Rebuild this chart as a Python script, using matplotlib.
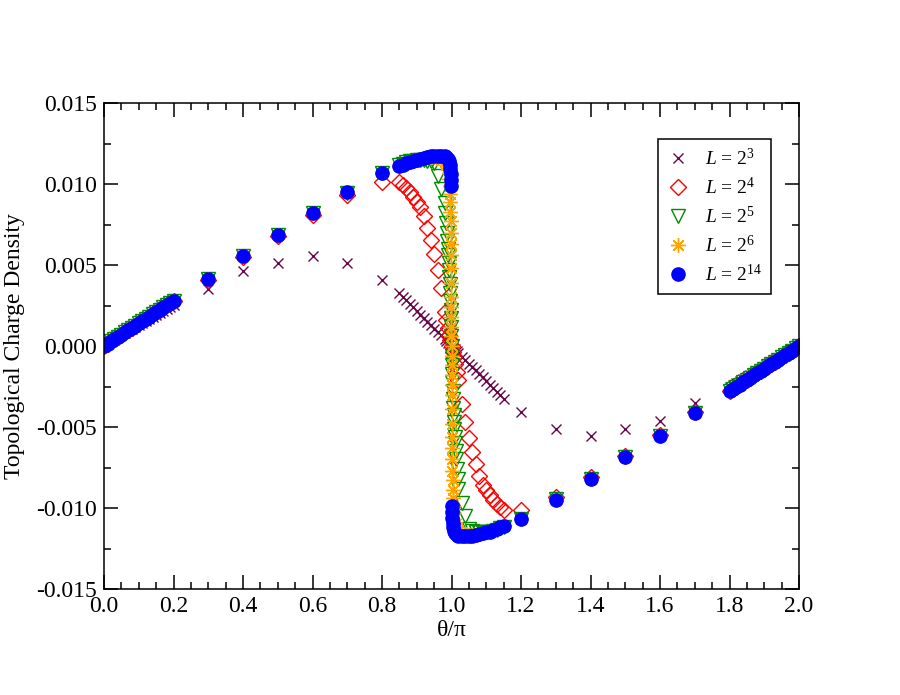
import matplotlib
matplotlib.use("Agg")
import matplotlib.pyplot as plt
from matplotlib.ticker import MultipleLocator, FormatStrFormatter

# --- data (charge density in units of 1e-3) ---
# theta/pi grid pieces shared by every lattice size
X_LOW = [0.00, 0.01, 0.02, 0.03, 0.04, 0.05, 0.06, 0.07, 0.08, 0.09, 0.10,
         0.11, 0.12, 0.13, 0.14, 0.15, 0.16, 0.17, 0.18, 0.19, 0.20]
X_MID_L = [0.3, 0.4, 0.5, 0.6, 0.7, 0.8]
X_NEAR_L = [0.85, 0.86, 0.87, 0.88, 0.89, 0.90, 0.91, 0.92, 0.93, 0.94, 0.95,
            0.96, 0.97, 0.98]
X_NEAR_R = [1.02, 1.03, 1.04, 1.05, 1.06, 1.07, 1.08, 1.09, 1.10, 1.11, 1.12,
            1.13, 1.14, 1.15]
X_MID_R = [1.2, 1.3, 1.4, 1.5, 1.6, 1.7]
X_HIGH = [1.80, 1.81, 1.82, 1.83, 1.84, 1.85, 1.86, 1.87, 1.88, 1.89, 1.90,
          1.91, 1.92, 1.93, 1.94, 1.95, 1.96, 1.97, 1.98, 1.99, 2.00]

# points close to theta = pi, per lattice size
X_C_L3 = [0.985, 0.99, 0.995, 1.0, 1.005, 1.01, 1.015]
X_C_L4 = [0.985, 0.99, 0.994, 0.997, 1.0, 1.003, 1.006, 1.01, 1.015]
X_C_L5 = [0.982, 0.984, 0.986, 0.988, 0.99, 0.991, 0.992, 0.993, 0.994, 0.995,
          0.996, 0.997, 0.998, 0.9985, 0.999, 0.9995, 1.0, 1.0005, 1.001,
          1.0015, 1.002, 1.003, 1.004, 1.005, 1.006, 1.007, 1.008, 1.009,
          1.01, 1.012, 1.014, 1.016, 1.018]
X_C_L6 = [0.985, 0.99, 0.992, 0.994, 0.995, 0.996, 0.9965, 0.997, 0.9975,
          0.998, 0.9983, 0.9986, 0.9989, 0.9992, 0.9994, 0.9995, 0.9996,
          0.9997, 0.9998, 1.0, 1.0002, 1.0003, 1.0004, 1.0005, 1.0006,
          1.0008, 1.0011, 1.0014, 1.0017, 1.002, 1.0025, 1.003, 1.0035,
          1.004, 1.005, 1.006, 1.008, 1.01, 1.015]
X_C_L14 = [0.985, 0.99, 0.993, 0.995, 0.997, 0.998, 0.999, 0.9995, 1.0005,
           1.001, 1.002, 1.003, 1.005, 1.007, 1.01, 1.015]

Q_L3 = ([0.00, 0.135, 0.27, 0.40, 0.535, 0.67, 0.80, 0.93, 1.06, 1.19, 1.32,
         1.45, 1.57, 1.69, 1.81, 1.93, 2.05, 2.17, 2.29, 2.40, 2.51]
        + [3.50, 4.60, 5.15, 5.55, 5.10, 4.10]
        + [3.30, 3.05, 2.82, 2.60, 2.38, 2.16, 1.94, 1.72, 1.50, 1.29, 1.08,
           0.86, 0.65, 0.43]
        + [0.32, 0.21, 0.11, 0.00, -0.11, -0.21, -0.32]
        + [-0.43, -0.65, -0.86, -1.08, -1.29, -1.50, -1.72, -1.94, -2.16,
           -2.38, -2.60, -2.82, -3.05, -3.30]
        + [-4.10, -5.10, -5.55, -5.15, -4.60, -3.50]
        + [-2.51, -2.40, -2.29, -2.17, -2.05, -1.93, -1.81, -1.69, -1.57,
           -1.45, -1.32, -1.19, -1.06, -0.93, -0.80, -0.67, -0.535, -0.40,
           -0.27, -0.135, 0.00])

Q_L4 = ([0.00, 0.14, 0.28, 0.42, 0.56, 0.70, 0.84, 0.98, 1.12, 1.26, 1.40,
         1.54, 1.68, 1.82, 1.96, 2.09, 2.23, 2.37, 2.51, 2.65, 2.78]
        + [4.10, 5.50, 6.80, 8.10, 9.35, 10.10]
        + [10.15, 9.95, 9.75, 9.50, 9.20, 8.90, 8.55, 8.05, 7.30, 6.55, 5.70,
           4.70, 3.60, 2.10]
        + [1.60, 1.10, 0.70, 0.35, 0.00, -0.35, -0.70, -1.10, -1.60]
        + [-2.10, -3.60, -4.70, -5.70, -6.55, -7.30, -8.05, -8.55, -8.90,
           -9.20, -9.50, -9.75, -9.95, -10.15]
        + [-10.10, -9.35, -8.10, -6.80, -5.50, -4.10]
        + [-2.78, -2.65, -2.51, -2.37, -2.23, -2.09, -1.96, -1.82, -1.68,
           -1.54, -1.40, -1.26, -1.12, -0.98, -0.84, -0.70, -0.56, -0.42,
           -0.28, -0.14, 0.00])

Q_L5 = ([0.00, 0.14, 0.28, 0.42, 0.56, 0.70, 0.84, 0.98, 1.12, 1.26, 1.40,
         1.54, 1.68, 1.82, 1.96, 2.10, 2.24, 2.38, 2.52, 2.66, 2.80]
        + [4.15, 5.55, 6.85, 8.20, 9.45, 10.65]
        + [11.15, 11.25, 11.35, 11.40, 11.45, 11.50, 11.50, 11.50, 11.45,
           11.40, 11.30, 10.50, 9.70, 8.80]
        + [8.20, 7.60, 7.00, 6.50, 6.00, 5.60, 5.15, 4.70, 4.25, 3.80, 3.30,
           2.80, 2.20, 1.70, 1.15, 0.60, 0.00, -0.60, -1.15, -1.70, -2.20,
           -2.80, -3.30, -3.80, -4.25, -4.70, -5.15, -5.60, -6.00, -6.50,
           -7.00, -7.60, -8.20]
        + [-8.80, -9.70, -10.50, -11.30, -11.40, -11.45, -11.50, -11.50,
           -11.50, -11.45, -11.40, -11.35, -11.25, -11.15]
        + [-10.65, -9.45, -8.20, -6.85, -5.55, -4.15]
        + [-2.80, -2.66, -2.52, -2.38, -2.24, -2.10, -1.96, -1.82, -1.68,
           -1.54, -1.40, -1.26, -1.12, -0.98, -0.84, -0.70, -0.56, -0.42,
           -0.28, -0.14, 0.00])

Q_L6 = ([0.00, 0.14, 0.28, 0.42, 0.56, 0.70, 0.84, 0.98, 1.12, 1.26, 1.40,
         1.54, 1.68, 1.82, 1.96, 2.10, 2.24, 2.38, 2.52, 2.66, 2.80]
        + [4.15, 5.55, 6.85, 8.20, 9.50, 10.70]
        + [11.10, 11.20, 11.30, 11.35, 11.45, 11.50, 11.55, 11.60, 11.65,
           11.65, 11.65, 11.60, 11.50, 11.35]
        + [11.20, 11.00, 10.70, 10.30, 9.90, 9.40, 8.90, 8.30, 7.70, 7.00,
           6.30, 5.60, 4.80, 3.90, 3.00, 2.40, 1.80, 1.20, 0.60, 0.00,
           -0.60, -1.20, -1.80, -2.40, -3.00, -3.90, -4.80, -5.60, -6.30,
           -7.00, -7.70, -8.30, -8.90, -9.40, -9.90, -10.30, -10.70, -11.00,
           -11.20]
        + [-11.35, -11.50, -11.60, -11.65, -11.65, -11.65, -11.60, -11.55,
           -11.50, -11.45, -11.35, -11.30, -11.20, -11.10]
        + [-10.70, -9.50, -8.20, -6.85, -5.55, -4.15]
        + [-2.80, -2.66, -2.52, -2.38, -2.24, -2.10, -1.96, -1.82, -1.68,
           -1.54, -1.40, -1.26, -1.12, -0.98, -0.84, -0.70, -0.56, -0.42,
           -0.28, -0.14, 0.00])

Q_L14 = ([0.00, 0.14, 0.28, 0.42, 0.56, 0.70, 0.84, 0.98, 1.12, 1.26, 1.40,
          1.54, 1.68, 1.82, 1.96, 2.10, 2.24, 2.38, 2.52, 2.66, 2.80]
         + [4.15, 5.55, 6.85, 8.20, 9.50, 10.70]
         + [11.10, 11.20, 11.30, 11.35, 11.45, 11.50, 11.55, 11.60, 11.65,
            11.70, 11.75, 11.75, 11.75, 11.70]
         + [11.65, 11.55, 11.40, 11.20, 10.90, 10.60, 10.25, 9.85, -9.85,
            -10.25, -10.60, -10.90, -11.20, -11.40, -11.55, -11.65]
         + [-11.70, -11.75, -11.75, -11.75, -11.70, -11.65, -11.60, -11.55,
            -11.50, -11.45, -11.35, -11.30, -11.20, -11.10]
         + [-10.70, -9.50, -8.20, -6.85, -5.55, -4.15]
         + [-2.80, -2.66, -2.52, -2.38, -2.24, -2.10, -1.96, -1.82, -1.68,
            -1.54, -1.40, -1.26, -1.12, -0.98, -0.84, -0.70, -0.56, -0.42,
            -0.28, -0.14, 0.00])

LABELS = [r'$L$ = 2$^{3}$', r'$L$ = 2$^{4}$', r'$L$ = 2$^{5}$',
          r'$L$ = 2$^{6}$', r'$L$ = 2$^{14}$']

plt.rcParams['font.family'] = 'Liberation Serif'
plt.rcParams['mathtext.fontset'] = 'custom'
plt.rcParams['mathtext.rm'] = 'Liberation Serif'
plt.rcParams['mathtext.it'] = 'Liberation Serif:italic'
plt.rcParams['axes.unicode_minus'] = False


def full_x(center):
    return X_LOW + X_MID_L + X_NEAR_L + center + X_NEAR_R + X_MID_R + X_HIGH


series = [
    (X_C_L3, Q_L3, dict(marker='x', ms=7.5, color='#670748', mew=1.0)),
    (X_C_L4, Q_L4, dict(marker='D', ms=8.0, mfc='none', mec='#ff0000', mew=1.0)),
    (X_C_L5, Q_L5, dict(marker='v', ms=10.5, mfc='none', mec='#008b00', mew=1.0)),
    (X_C_L6, Q_L6, dict(marker=(8, 2, 0), ms=10.5, color='#ffa500', mew=1.0)),
    (X_C_L14, Q_L14, dict(marker='o', ms=9.5, color='#0000ff', mec='#0000ff')),
]

fig = plt.figure(figsize=(9, 6.95), dpi=100)
ax = fig.add_axes([0.1156, 0.1525, 0.7722, 0.6993])

for (xc, q, style), label in zip(series, LABELS):
    x = full_x(xc)
    ax.plot(x, [v * 1e-3 for v in q], linestyle='none', label=label, **style)

ax.set_xlim(0, 2)
ax.set_ylim(-0.015, 0.015)
ax.xaxis.set_major_locator(MultipleLocator(0.2))
ax.xaxis.set_minor_locator(MultipleLocator(0.05))
ax.yaxis.set_major_locator(MultipleLocator(0.005))
ax.yaxis.set_minor_locator(MultipleLocator(0.0025))
ax.xaxis.set_major_formatter(FormatStrFormatter('%.1f'))
ax.yaxis.set_major_formatter(FormatStrFormatter('%.3f'))
ax.tick_params(which='both', direction='in', top=True, right=True,
               labelsize=17, width=1.1)
ax.tick_params(which='major', length=10, pad=5)
ax.tick_params(which='minor', length=5)
for s in ax.spines.values():
    s.set_linewidth(1.1)

ax.set_xlabel('θ/π', fontsize=17, labelpad=2)
ax.set_ylabel('Topological Charge Density', fontsize=17, labelpad=8)

leg = ax.legend(loc='upper right', bbox_to_anchor=(771 / 900, 1 - 139 / 695),
                bbox_transform=fig.transFigure, borderaxespad=0,
                fontsize=14, numpoints=1, handlelength=1.15,
                handletextpad=0.8, labelspacing=0.4, borderpad=0.45,
                fancybox=False, framealpha=1)
leg.get_frame().set_edgecolor('black')
leg.get_frame().set_linewidth(1.1)

fig.savefig('out.png', dpi=100)
